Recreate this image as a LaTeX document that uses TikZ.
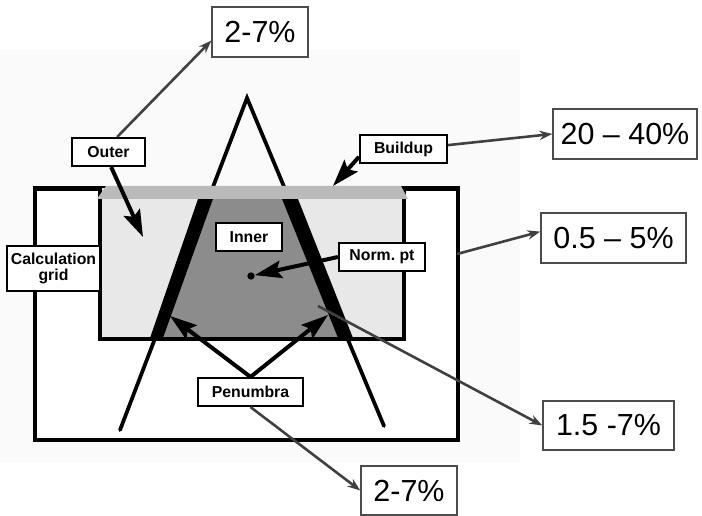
\documentclass[tikz,border=0pt]{standalone}
\usepackage{fontspec}
\setmainfont{Liberation Sans}
\usetikzlibrary{arrows.meta}

\tikzset{
  tag/.style={draw, line width=1.8pt, fill=white, inner sep=0pt,
    minimum height=0.84cm, font=\fontsize{13.5}{15}\selectfont\bfseries},
  pct/.style={draw=black!70, line width=1.2pt, fill=white, inner sep=0pt,
    minimum height=1.5cm, font=\fontsize{26}{30}\selectfont},
  blk/.style={line width=3.4pt, -{Stealth[length=23pt,width=15pt,inset=4pt]}},
  gry/.style={draw=black!75, line width=2.2pt, -{Stealth[length=11pt,width=8pt]}},
}

\begin{document}
\begin{tikzpicture}[x=0.03cm, y=-0.03cm]
    \useasboundingbox (0,0) rectangle (702,516);
    \fill[black!2] (0,50) rectangle (520,462);

    % phantom and grid
    \draw[line width=4.2pt, fill=white] (35,188.5) rectangle (458,440);
    \fill[black!9] (100,188) rectangle (404,339);

    % beam
    \draw[line width=3.2pt, line cap=round] (120,430) -- (247,98) -- (384,426);
    \fill[black!45] (213,199) -- (282,199) -- (338,338) -- (163,338) -- cycle;
    \fill (198,199) -- (213,199) -- (163,338) -- (150,338) -- cycle;
    \fill (282,199) -- (298,199) -- (353,338) -- (338,338) -- cycle;
    \draw[line width=4.2pt] (100,188) -- (100,339) -- (404,339) -- (404,188);
    \fill[black!27] (106,186) -- (401,186) -- (408,199) -- (97,199) -- cycle;

    \node[circle, fill, inner sep=0pt, minimum size=0.22cm] (dot) at (251,276) {};

    \coordinate (outerpt) at (143,237);
    \coordinate (barpt) at (333,186);
    \coordinate (edgept) at (457,254);
    \coordinate (midpt) at (318,306);
    \coordinate (lpen) at (170,316);
    \coordinate (rpen) at (328,315);

    \node[tag, minimum width=2.19cm] (outer) at (108.5,152) {Outer};
    \node[tag, minimum width=2.61cm] (build) at (403.5,149) {Buildup};
    \node[tag, minimum width=1.98cm] (inner) at (249,237) {Inner};
    \node[tag, minimum width=2.58cm] (norm) at (382,257) {Norm.\ pt};
    \node[tag, minimum width=2.79cm, minimum height=1.35cm, align=center] (grid) at (53.5,268.5) {Calculation\\[-2pt]grid};
    \node[tag, minimum width=3.15cm] (pen) at (250.5,392) {Penumbra};

    \node[pct, minimum width=2.88cm] (pa) at (260,32) {2-7\%};
    \node[pct, minimum width=4.32cm] (pb) at (625,134) {20 – 40\%};
    \node[pct, minimum width=4.35cm] (pc) at (613.5,238) {0.5 – 5\%};
    \node[pct, minimum width=3.93cm, minimum height=1.47cm] (pd) at (608.5,425.5) {1.5 -7\%};
    \node[pct, minimum width=2.88cm, minimum height=1.47cm] (pe) at (409,490.5) {2-7\%};

    \draw[blk] (outer.-80) -- (outerpt);
    \draw[blk] (build.190) -- (barpt);
    \draw[blk] (norm.west) -- (dot);
    \draw[blk] (pen.north) -- (lpen);
    \draw[blk] (pen.north) -- (rpen);

    \draw[gry] (outer.60) -- (pa.190);
    \draw[gry] (build.5) -- (pb.west);
    \draw[gry] (edgept) -- (pc.175);
    \draw[gry] (midpt) -- (pd.west);
    \draw[gry] (pen.south) -- (pe.west);
\end{tikzpicture}
\end{document}
